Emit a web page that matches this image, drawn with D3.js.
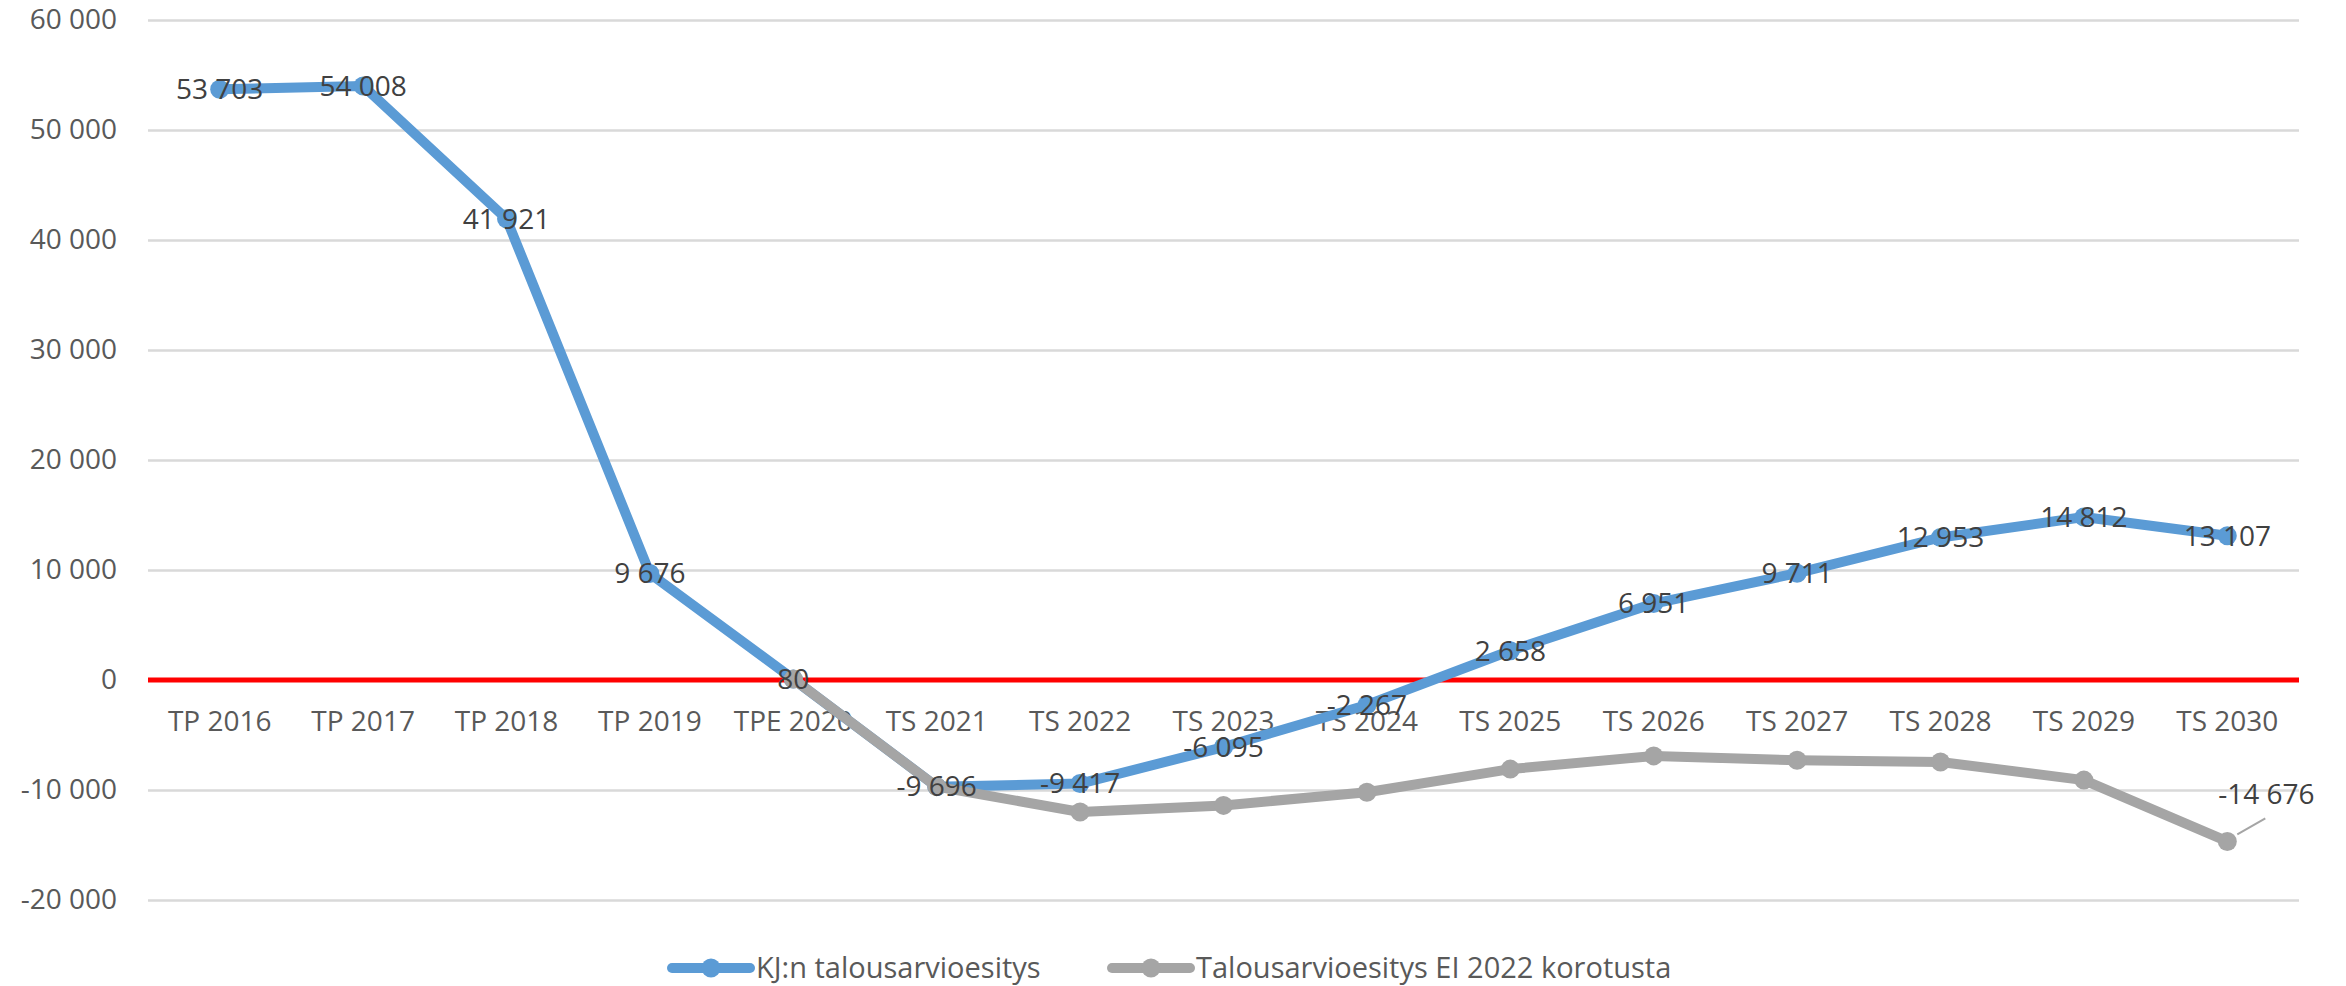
<!DOCTYPE html>
<html><head>
<meta charset="utf-8">
<title>Talousarvioesitys</title>
<script src="https://d3js.org/d3.v7.min.js"></script>
<style>
  body { margin: 0; background: #fff; }
  text { font-family: "Open Sans", sans-serif; }
</style>
</head>
<body>
<div id="chart"></div>
<script>

// data
var categories = ["TP 2016", "TP 2017", "TP 2018", "TP 2019", "TPE 2020", "TS 2021", "TS 2022",
  "TS 2023", "TS 2024", "TS 2025", "TS 2026", "TS 2027", "TS 2028", "TS 2029", "TS 2030"];
var kjValues = [53703, 54008, 41921, 9676, 80, -9696, -9417, -6095, -2267, 2658, 6951, 9711, 12953, 14812, 13107];
var eiValues = [null, null, null, null, 80, -9696, -12000, -11400, -10200, -8100, -6900, -7300, -7450, -9100, -14676];
var yTicks = [-20000, -10000, 0, 10000, 20000, 30000, 40000, 50000, 60000];
var seriesNames = ["KJ:n talousarvioesitys", "Talousarvioesitys EI 2022 korotusta"];

var width = 2346, height = 986;
var blue = "#5b9bd5", grey = "#a5a5a5";

var svg = d3.select("#chart").append("svg")
    .attr("width", width)
    .attr("height", height);

var xScale = d3.scaleBand()
    .domain(categories)
    .range([148, 2299]);
var cx = function(c) { return xScale(c) + xScale.bandwidth() / 2; };

var yScale = d3.scaleLinear()
    .domain([-20000, 60000])
    .range([900, 20]);

var fmt = d3.formatLocale({decimal: ",", thousands: " ", grouping: [3], currency: ["", " €"], minus: "-"}).format(",d");

// gridlines + y labels
var yAxis = d3.axisLeft(yScale)
    .tickValues(yTicks)
    .tickSize(-(2299 - 148))
    .tickPadding(31)
    .tickFormat(fmt);

var gy = svg.append("g")
    .attr("transform", "translate(148,0)")
    .call(yAxis);
gy.select(".domain").remove();
gy.selectAll(".tick line")
    .attr("stroke", "#d9d9d9")
    .attr("stroke-width", 2.5);
gy.selectAll(".tick text")
    .attr("fill", "#595959")
    .style("font-size", "28px")
    .style("font-family", "Open Sans");

// red zero line
svg.append("line")
    .attr("x1", 148)
    .attr("x2", 2299)
    .attr("y1", yScale(0))
    .attr("y2", yScale(0))
    .attr("stroke", "#ff0000")
    .attr("stroke-width", 5);

// x labels
var xAxis = d3.axisBottom(xScale).tickSize(0).tickPadding(0);
var gx = svg.append("g")
    .attr("transform", "translate(0,721)")
    .call(xAxis);
gx.select(".domain").remove();
gx.selectAll(".tick text")
    .attr("y", 0)
    .attr("dy", "0.35em")
    .attr("fill", "#595959")
    .style("font-size", "28px")
    .style("font-family", "Open Sans");

var kjData = categories.map(function(c, i) { return {c: c, v: kjValues[i]}; });
var eiData = categories.map(function(c, i) { return {c: c, v: eiValues[i]}; })
    .filter(function(d) { return d.v !== null; });

var line = d3.line()
    .x(function(d) { return cx(d.c); })
    .y(function(d) { return yScale(d.v); });

svg.append("path")
    .datum(kjData)
    .attr("fill", "none")
    .attr("stroke", blue)
    .attr("stroke-width", 10)
    .attr("stroke-linejoin", "round")
    .attr("d", line);

svg.selectAll(".kjdot")
    .data(kjData)
    .enter().append("circle")
    .attr("cx", function(d) { return cx(d.c); })
    .attr("cy", function(d) { return yScale(d.v); })
    .attr("r", 9.5)
    .attr("fill", blue);

svg.append("path")
    .datum(eiData)
    .attr("fill", "none")
    .attr("stroke", grey)
    .attr("stroke-width", 10)
    .attr("stroke-linejoin", "round")
    .attr("d", line);

svg.selectAll(".eidot")
    .data(eiData)
    .enter().append("circle")
    .attr("cx", function(d) { return cx(d.c); })
    .attr("cy", function(d) { return yScale(d.v); })
    .attr("r", 9.5)
    .attr("fill", grey);

// data labels (centered on points)
svg.selectAll(".kjlab")
    .data(kjData)
    .enter().append("text")
    .attr("x", function(d) { return cx(d.c); })
    .attr("y", function(d) { return yScale(d.v); })
    .attr("dy", "0.35em")
    .attr("text-anchor", "middle")
    .attr("fill", "#404040")
    .style("font-size", "28px")
    .text(function(d) { return fmt(d.v); });

// last grey label with leader line
var last = eiData[eiData.length - 1];
var lx = cx(last.c), ly = yScale(last.v);
svg.append("line")
    .attr("x1", lx + 10).attr("y1", ly - 7)
    .attr("x2", lx + 38).attr("y2", ly - 23)
    .attr("stroke", grey)
    .attr("stroke-width", 2);
svg.append("text")
    .attr("x", lx + 39)
    .attr("y", ly - 47)
    .attr("dy", "0.35em")
    .attr("text-anchor", "middle")
    .attr("fill", "#404040")
    .style("font-size", "28px")
    .text(fmt(last.v));

// legend
var legend = [
  {name: seriesNames[0], color: blue, x: 672},
  {name: seriesNames[1], color: grey, x: 1112}
];
var lg = svg.selectAll(".legend")
    .data(legend)
    .enter().append("g")
    .attr("transform", function(d) { return "translate(" + d.x + ",968)"; });
lg.append("line")
    .attr("x1", 0).attr("x2", 78)
    .attr("stroke", function(d) { return d.color; })
    .attr("stroke-width", 10)
    .attr("stroke-linecap", "round");
lg.append("circle")
    .attr("cx", 39)
    .attr("r", 9.5)
    .attr("fill", function(d) { return d.color; });
lg.append("text")
    .attr("x", 84)
    .attr("dy", "0.35em")
    .attr("fill", "#595959")
    .style("font-size", "29px")
    .text(function(d) { return d.name; });

</script>
</body></html>
